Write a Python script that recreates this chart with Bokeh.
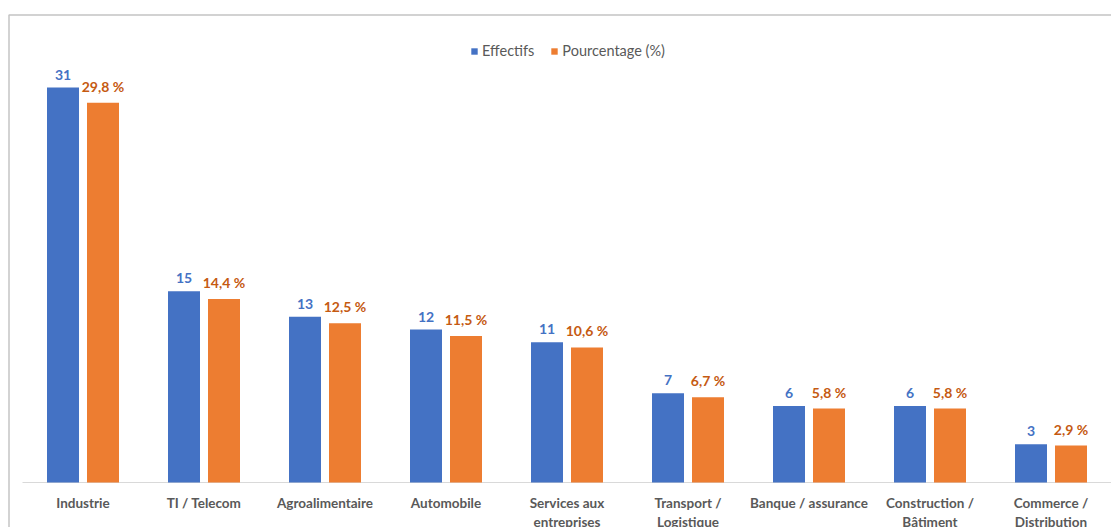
from bokeh.plotting import figure
from bokeh.models import (ColumnDataSource, Range1d, LinearAxis, FixedTicker,
                          Legend, LegendItem)
from bokeh.core.properties import value
from bokeh.embed import file_html
from bokeh.resources import INLINE

categories = ["Industrie", "TI / Telecom", "Agroalimentaire", "Automobile",
              "Services aux\nentreprises", "Transport /\nLogistique",
              "Banque / assurance", "Construction /\nBâtiment",
              "Commerce /\nDistribution"]
effectifs = [31, 15, 13, 12, 11, 7, 6, 6, 3]
pourcentage = [29.8, 14.4, 12.5, 11.5, 10.6, 6.7, 5.8, 5.8, 2.9]
pct_labels = [f"{v:.1f}".replace(".", ",") + " %" for v in pourcentage]

W, H = 1111, 527
CAT_PX = 121.0
PPU = 395.0 / 31.0
BASE_PX = 482.0

xs = -0.5 - 22.0 / CAT_PX
xe = xs + W / CAT_PX
ye = BASE_PX / PPU
ys = -(H - BASE_PX) / PPU

idx = list(range(len(categories)))
OFF = 20.0 / CAT_PX
BW = 32.0 / CAT_PX

src = ColumnDataSource(dict(
    xb=[i - OFF for i in idx], xo=[i + OFF for i in idx],
    eff=effectifs, pct=pourcentage,
    eff_lbl=[str(v) for v in effectifs], pct_lbl=pct_labels))

p = figure(width=W, height=H, output_backend="svg", toolbar_location=None,
           x_range=Range1d(xs, xe), y_range=Range1d(ys, ye),
           min_border_left=0, min_border_right=0, min_border_top=0,
           min_border_bottom=0, x_axis_type=None, y_axis_type=None)
p.xgrid.visible = False
p.ygrid.visible = False
p.outline_line_color = None
p.background_fill_color = "white"
p.border_fill_color = "white"

# outer chart border (top & left)
xb = xs + 8.5 / CAT_PX
yt = ye - 14.5 / PPU
p.line(x=[xb, xb, xe], y=[ys, yt, yt], line_color="#c4c4c4", line_width=1.5)

# baseline
p.segment(x0=[-0.5], y0=[0], x1=[xe], y1=[0], line_color="#d9d9d9", line_width=1.2)

r1 = p.vbar(x="xb", top="eff", width=BW, bottom=0, source=src,
            fill_color="#4472C4", line_color=None)
r2 = p.vbar(x="xo", top="pct", width=BW, bottom=0, source=src,
            fill_color="#ED7D31", line_color=None)

p.text(x="xb", y="eff", text="eff_lbl", source=src, text_align="center",
       text_baseline="bottom", y_offset=-8, text_color="#4472C4",
       text_font=value("Lato"), text_font_style="bold", text_font_size="14px")
p.text(x="xo", y="pct", text="pct_lbl", source=src, text_align="center",
       text_baseline="bottom", y_offset=-8, text_color="#C55A11",
       text_font=value("Lato"), text_font_style="bold", text_font_size="14px")

ax = LinearAxis(fixed_location=0, ticker=FixedTicker(ticks=idx),
                major_label_overrides={i: c for i, c in zip(idx, categories)})
ax.axis_line_color = None
ax.major_tick_line_color = None
ax.minor_tick_line_color = None
ax.major_tick_out = 0
ax.major_tick_in = 0
ax.major_label_standoff = 12
ax.major_label_text_font = "Lato"
ax.major_label_text_font_style = "bold"
ax.major_label_text_font_size = "13.5px"
ax.major_label_text_color = "#595959"
p.add_layout(ax, "below")

legend = Legend(items=[LegendItem(label="Effectifs", renderers=[r1]),
                       LegendItem(label="Pourcentage (%)", renderers=[r2])],
                orientation="horizontal", location=(470, 468),
                glyph_width=8, glyph_height=8, label_standoff=4, spacing=16,
                padding=5, margin=0, border_line_color=None,
                background_fill_alpha=0,
                label_text_font="Lato", label_text_font_size="14.5px",
                label_text_color="#595959")
p.add_layout(legend, "center")

open("out.html", "w").write(file_html(p, INLINE))
